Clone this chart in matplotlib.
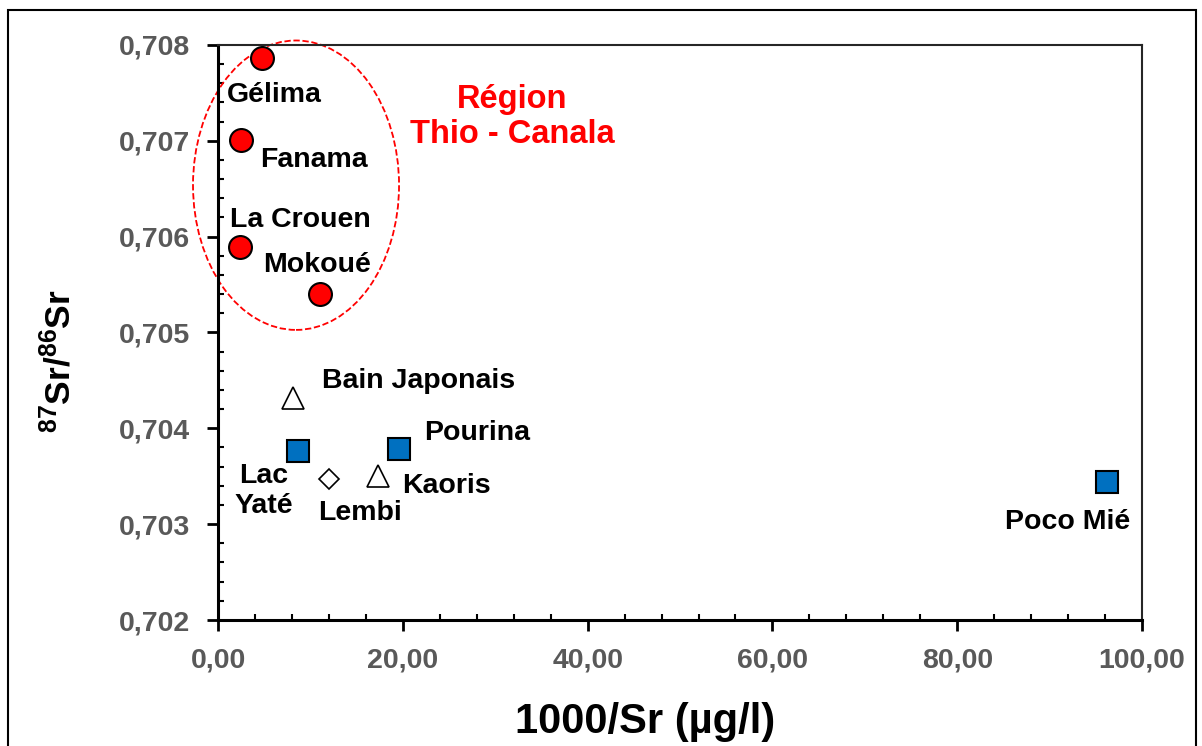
import matplotlib
matplotlib.use('Agg')
import matplotlib.pyplot as plt
from matplotlib.patches import Ellipse, Rectangle
from matplotlib.ticker import FuncFormatter, MultipleLocator

plt.rcParams['font.family'] = ['Liberation Sans', 'DejaVu Sans']
plt.rcParams['font.weight'] = 'bold'
plt.rcParams['mathtext.fontset'] = 'custom'
plt.rcParams['mathtext.rm'] = 'Liberation Sans'
plt.rcParams['mathtext.bf'] = 'Liberation Sans:bold'

# --- données (1000/Sr, 87Sr/86Sr) ---
thio_names = ['Gélima', 'Fanama', 'La Crouen', 'Mokoué']
thio_x = [4.8, 2.5, 2.4, 11.0]
thio_y = [0.70786, 0.70701, 0.70589, 0.70540]

sq_names = ['Lac\nYaté', 'Pourina', 'Poco Mié']
sq_x = [8.7, 19.6, 96.2]
sq_y = [0.70376, 0.70378, 0.70344]

tri_names = ['Bain Japonais', 'Kaoris']
tri_x = [8.1, 17.3]
tri_y = [0.70432, 0.70350]

dia_names = ['Lembi']
dia_x = [12.0]
dia_y = [0.70347]

# positions des étiquettes (coordonnées des données)
thio_lab = [(1.0, 0.70748), (4.6, 0.70680), (1.3, 0.70617), (4.9, 0.70570)]
sq_lab = [(4.9, 0.70335), (22.3, 0.70395), (85.2, 0.70302)]
tri_lab = [(11.3, 0.70449), (19.9, 0.70340)]
dia_lab = [(10.8, 0.70312)]

fig = plt.figure(figsize=(12.02, 7.46), dpi=100)
ax = fig.add_axes([0.1814, 0.1689, 0.7687, 0.7708])

# cadre extérieur
fig.patches.append(Rectangle((8 / 1202, -0.05), 1188 / 1202, 736 / 746 + 0.05,
                             transform=fig.transFigure, fill=False,
                             lw=1.5, ec='black'))

ax.add_patch(Ellipse((8.44, 0.706537), 22.3, 0.00302, fill=False, ec='red',
                     ls=(0, (3.5, 1.5)), lw=1.3, clip_on=False, zorder=2))

ax.plot(thio_x, thio_y, 'o', ms=16.5, mfc='#FF0000', mec='black', mew=1.5,
        ls='none', zorder=3, clip_on=False)
ax.plot(sq_x, sq_y, 's', ms=16, mfc='#0070C0', mec='black', mew=1.5,
        ls='none', zorder=3)
ax.plot(tri_x, tri_y, '^', ms=16, mfc='white', mec='black', mew=1.2,
        ls='none', zorder=3)
ax.plot(dia_x, dia_y, 'D', ms=10.5, mfc='white', mec='black', mew=1.2,
        ls='none', zorder=3)

FS = 20.5
for name, (lx, ly) in zip(thio_names, thio_lab):
    ax.text(lx, ly, name, fontsize=FS, ha='left', va='center')
for name, (lx, ly) in zip(sq_names, sq_lab):
    ha = 'center' if '\n' in name else 'left'
    ax.text(lx, ly, name, fontsize=FS, ha=ha, va='center', linespacing=1.2)
for name, (lx, ly) in zip(tri_names, tri_lab):
    ax.text(lx, ly, name, fontsize=FS, ha='left', va='center')
for name, (lx, ly) in zip(dia_names, dia_lab):
    ax.text(lx, ly, name, fontsize=FS, ha='left', va='center')

ax.text(31.8, 0.707248, 'Région\nThio - Canala', fontsize=23.5, color='red',
        ha='center', va='center', linespacing=1.15)

ax.set_xlim(0, 100)
ax.set_ylim(0.702, 0.708)
ax.xaxis.set_major_locator(MultipleLocator(20))
ax.xaxis.set_minor_locator(MultipleLocator(4))
ax.yaxis.set_major_locator(MultipleLocator(0.001))
ax.yaxis.set_minor_locator(MultipleLocator(0.0002))
ax.xaxis.set_major_formatter(FuncFormatter(lambda v, p: f'{v:.2f}'.replace('.', ',')))
ax.yaxis.set_major_formatter(FuncFormatter(lambda v, p: f'{v:.3f}'.replace('.', ',')))

ax.tick_params(which='major', direction='out', length=8, width=2,
               labelsize=FS, labelcolor='#595959', pad=12)
ax.tick_params(which='minor', direction='in', length=4, width=1.5)

for s in ['left', 'bottom']:
    ax.spines[s].set_linewidth(2.2)
for s in ['top', 'right']:
    ax.spines[s].set_linewidth(1.5)
    ax.spines[s].set_color('#262626')

ax.set_xlabel('1000/Sr (µg/l)', fontsize=30, fontweight='bold')
ax.xaxis.set_label_coords(0.462, -0.143)
ax.set_ylabel(r'$\mathbf{^{87}Sr/^{86}Sr}$', fontsize=25.5)
ax.yaxis.set_label_coords(-0.152, 0.45)

fig.savefig('out.png', dpi=100)
